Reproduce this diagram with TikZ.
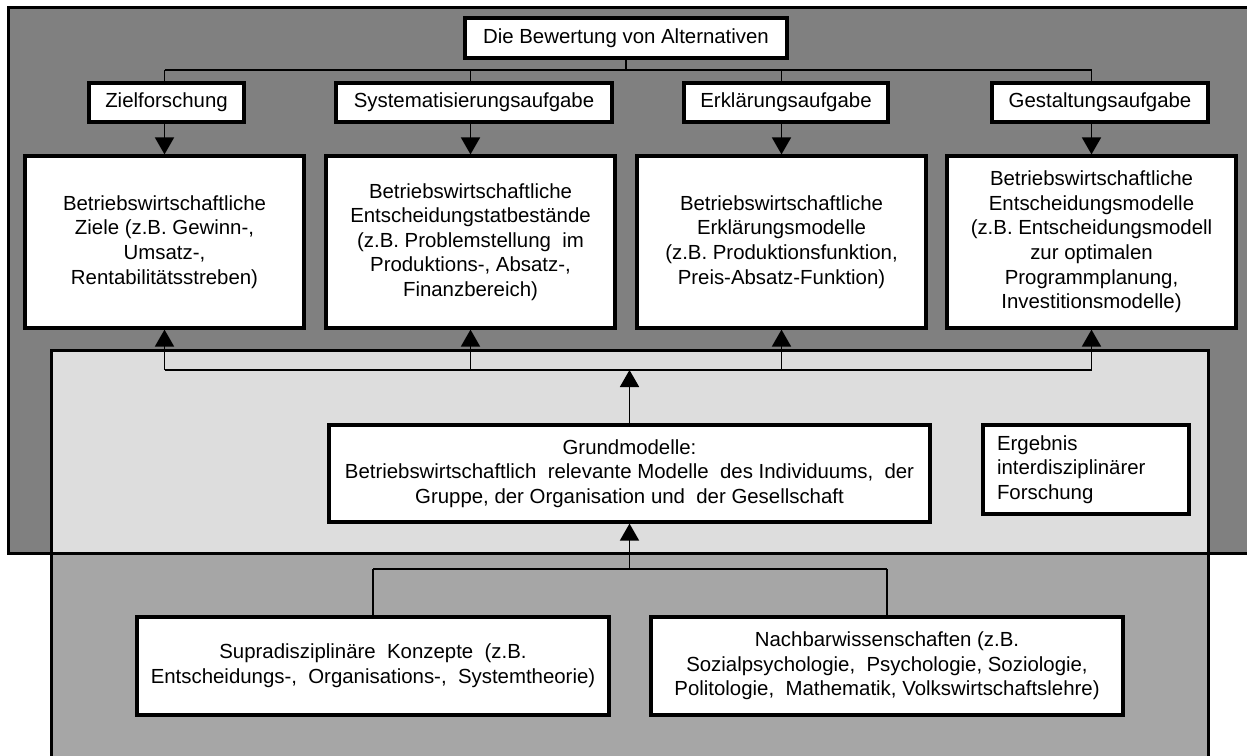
\documentclass[tikz,border=0pt]{standalone}
\usepackage{fontspec}
\setmainfont{Liberation Sans}
\usetikzlibrary{arrows.meta,calc}

\definecolor{outergray}{RGB}{128,128,128}
\definecolor{innergray}{RGB}{221,221,221}
\definecolor{basegray}{RGB}{166,166,166}

\begin{document}
\begin{tikzpicture}[x=0.5pt,y=-0.5pt,
  box/.style={draw=black, line width=1.6pt, fill=white, inner sep=0pt,
              align=center, font=\fontsize{10.2}{12.3}\selectfont},
  bigbox/.style={box, minimum width=144.5pt, minimum height=86pt},
  tagbox/.style={box, minimum height=19.5pt},
  footbox/.style={box, minimum width=236pt, minimum height=49pt},
  link/.style={line width=0.9pt},
  arr/.style={link, -{Triangle[width=9.5pt,length=8.5pt]}},
  frame/.style={draw=black, line width=1.5pt}]
\useasboundingbox (0,0) rectangle (1247,755);
\clip (0,0) rectangle (1247,755);

% background panels
\filldraw[frame, fill=outergray] (8,7) rectangle (1270,553);
\filldraw[frame, fill=innergray] (51,350) rectangle (1208,553);
\filldraw[frame, fill=basegray] (51,553) rectangle (1208,780);

% title and task labels
\node[box, minimum width=161pt, minimum height=20pt] (title) at (626,38) {Die Bewertung von Alternativen};
\node[tagbox, minimum width=77.5pt] (s1) at (166.5,102.5) {Zielforschung};
\node[tagbox, minimum width=138pt] (s2) at (474,102.5) {Systematisierungsaufgabe};
\node[tagbox, minimum width=102pt] (s3) at (786,102.5) {Erklärungsaufgabe};
\node[tagbox, minimum width=108pt] (s4) at (1100,102.5) {Gestaltungsaufgabe};

% model boxes
\node[bigbox, minimum width=139.5pt] (b1) at (164.5,242) {Betriebswirtschaftliche\\Ziele (z.B. Gewinn-,\\Umsatz-,\\Rentabilitätsstreben)};
\node[bigbox] (b2) at (470.5,242) {Betriebswirtschaftliche\\Entscheidungstatbestände\\(z.B. Problemstellung\ \ im\\Produktions-, Absatz-,\\Finanzbereich)};
\node[bigbox] (b3) at (781.5,242) {Betriebswirtschaftliche\\Erklärungsmodelle\\(z.B. Produktionsfunktion,\\Preis-Absatz-Funktion)};
\node[bigbox] (b4) at (1091.5,242) {Betriebswirtschaftliche\\Entscheidungsmodelle\\(z.B. Entscheidungsmodell\\zur optimalen\\Programmplanung,\\Investitionsmodelle)};

% basic models and note
\node[box, minimum width=300.5pt, minimum height=48.5pt] (grund) at (629.5,473.5) {Grundmodelle:\\Betriebswirtschaftlich\ \ relevante Modelle\ \ des Individuums,\ \ der\\Gruppe, der Organisation und\ \ der Gesellschaft};
\node[box, align=left, text width=89pt, inner xsep=7pt, minimum height=44.5pt] (erg) at (1086,469.5) {Ergebnis\\interdisziplinärer\\Forschung};

% source disciplines
\node[footbox] (sup) at (373,666) {Supradisziplinäre\ \ Konzepte\ \ (z.B.\\Entscheidungs-,\ \ Organisations-,\ \ Systemtheorie)};
\node[footbox] (nach) at (887,666) {Nachbarwissenschaften (z.B.\\Sozialpsychologie,\ \ Psychologie, Soziologie,\\Politologie,\ \ Mathematik, Volkswirtschaftslehre)};

% bus lines
\coordinate (topbus) at (0,70);
\coordinate (upbus) at (0,370);
\coordinate (lowbus) at (0,569);

% top distribution
\draw[link] (title.south) -- (title.south |- topbus);
\draw[link] (b1.north |- topbus) -- (b4.north |- topbus);
\foreach \s/\b in {s1/b1, s2/b2, s3/b3, s4/b4} {
  \draw[link] (\b.north |- topbus) -- (\b.north |- \s.north);
  \draw[arr] (\b.north |- \s.south) -- (\b.north);
}

% upward feed into the model boxes
\draw[link] (b1.south |- upbus) -- (b4.south |- upbus);
\foreach \b in {b1, b2, b3, b4} {
  \draw[arr] (\b.south |- upbus) -- (\b.south);
}
\draw[arr] (grund.north) -- (grund.north |- upbus);

% feed from the disciplines
\draw[link] (sup.north |- lowbus) -- (nach.north |- lowbus);
\draw[link] (sup.north) -- (sup.north |- lowbus);
\draw[link] (nach.north) -- (nach.north |- lowbus);
\draw[arr] (grund.south |- lowbus) -- (grund.south);
\end{tikzpicture}
\end{document}
